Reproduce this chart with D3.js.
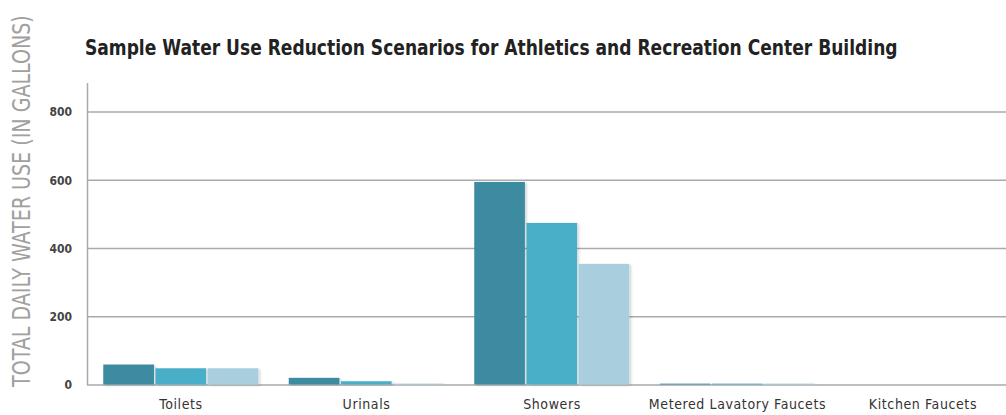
<!DOCTYPE html>
<html><head><meta charset="utf-8">
<script src="https://cdn.jsdelivr.net/npm/d3@7"></script>
<style>
html,body{margin:0;padding:0;background:#fff;}
svg{display:block;}
</style></head>
<body>
<svg id="chart" width="1006" height="415"></svg>
<script>
const categories = ["Toilets","Urinals","Showers","Metered Lavatory Faucets","Kitchen Faucets"];
const seriesNames = ["Scenario 1","Scenario 2","Scenario 3"];
const series1 = [60, 21, 595, 4, 0];
const series2 = [49, 11, 475, 4, 0];
const series3 = [49, 4, 355, 4, 0];
const yTicks = [0, 200, 400, 600, 800];
const colors = ["#3d8ba1", "#4aaec8", "#a9cfde"];
const titleText = "Sample Water Use Reduction Scenarios for Athletics and Recreation Center Building";
const yTitle = "TOTAL DAILY WATER USE  (IN GALLONS)";

const seriesVals = [series1, series2, series3];
const svg = d3.select("#chart");
const narrow = "'Liberation Sans Narrow','DejaVu Sans Condensed','Arial Narrow',sans-serif";

const defs = svg.append("defs");
const f = defs.append("filter").attr("id","sh").attr("x","-10%").attr("y","-10%").attr("width","130%").attr("height","130%");
f.append("feDropShadow").attr("dx",2).attr("dy",1).attr("stdDeviation",1).attr("flood-color","#000").attr("flood-opacity",0.15);

const x = d3.scaleBand().domain(categories).range([87, 1017]).paddingInner(0.156).paddingOuter(0.085);
const xi = d3.scaleBand().domain(d3.range(3)).range([0, x.bandwidth()]);
const y = d3.scaleLinear().domain([0, 885]).range([385, 83]);

// gridlines
svg.append("g").selectAll("line").data(yTicks).join("line")
  .attr("x1", 87).attr("x2", 1006)
  .attr("y1", d => y(d)).attr("y2", d => y(d))
  .attr("stroke", "#aaaaaa").attr("stroke-width", 1.5);

// y axis line
svg.append("line").attr("x1", 87.5).attr("x2", 87.5).attr("y1", y(885)).attr("y2", y(0))
  .attr("stroke", "#aaaaaa").attr("stroke-width", 1.5);

// tick labels
const yAxis = d3.axisLeft(y).tickValues(yTicks).tickSize(0).tickPadding(15);
const ya = svg.append("g").attr("transform","translate(87,0)").call(yAxis);
ya.select(".domain").remove();
ya.selectAll("text").attr("font-family", narrow).attr("font-size", 12).attr("font-weight","bold").attr("fill","#444");

// bars
const groups = svg.append("g").selectAll("g").data(categories).join("g")
  .attr("transform", d => `translate(${x(d)},0)`);
groups.selectAll("rect").data((d,i) => seriesVals.map((s,k) => ({k, v: s[i]})).filter(o => o.v > 0)).join("rect")
  .attr("x", d => xi(d.k) + 0.5).attr("width", xi.bandwidth() - 1.5)
  .attr("y", d => y(d.v)).attr("height", d => y(0) - y(d.v) - 0.5)
  .attr("fill", d => colors[d.k])
  .attr("filter","url(#sh)");

// x labels
const xAxis = d3.axisBottom(x).tickSize(0).tickPadding(14);
const xa = svg.append("g").attr("transform", `translate(0,${y(0)})`).call(xAxis);
xa.select(".domain").remove();
xa.selectAll("text").attr("font-family", narrow).attr("font-size", 14).attr("letter-spacing", "0.6px").attr("fill", "#333");

// title
const t = svg.append("text").attr("x", 0).attr("y", 0).text(titleText)
  .attr("font-family", narrow).attr("font-weight", "bold").attr("font-size", 21).attr("fill", "#222");
const tw = t.node().getComputedTextLength();
t.attr("transform", `translate(85,55) scale(${813 / tw},1)`);

// y title
const yt = svg.append("text").attr("x", 0).attr("y", 0).text(yTitle)
  .attr("font-family", narrow).attr("font-size", 24).attr("fill", "#a0a0a0");
const yw = yt.node().getComputedTextLength();
yt.attr("transform", `translate(30,387) rotate(-90) scale(${372 / yw},1)`);
</script>
</body></html>
